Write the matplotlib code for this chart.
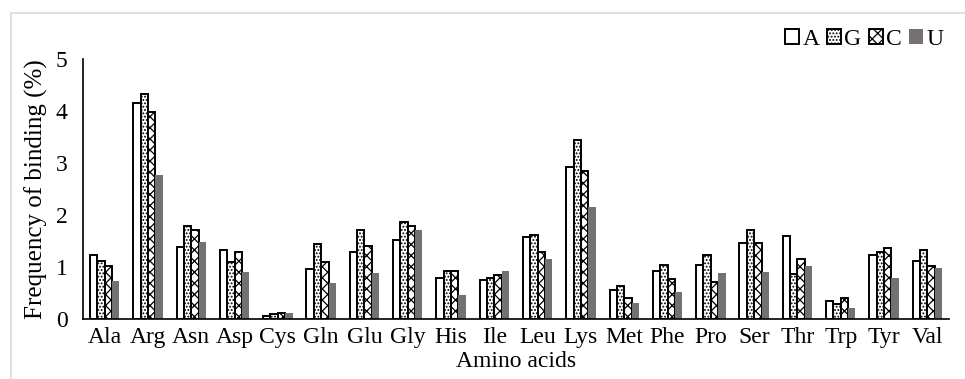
import matplotlib
matplotlib.use("Agg")
import matplotlib.pyplot as plt
import numpy as np
from matplotlib.patches import Rectangle

plt.rcParams['font.family'] = ['Liberation Serif', 'DejaVu Serif']
plt.rcParams['hatch.linewidth'] = 0.9

categories = ["Ala", "Arg", "Asn", "Asp", "Cys", "Gln", "Glu", "Gly", "His", "Ile",
              "Leu", "Lys", "Met", "Phe", "Pro", "Ser", "Thr", "Trp", "Tyr", "Val"]
series_names = ["A", "G", "C", "U"]
vals_A = [1.23, 4.15, 1.39, 1.32, 0.06, 0.96, 1.29, 1.52, 0.79, 0.75,
          1.57, 2.92, 0.56, 0.93, 1.03, 1.46, 1.60, 0.34, 1.23, 1.12]
vals_G = [1.12, 4.33, 1.78, 1.10, 0.09, 1.44, 1.71, 1.87, 0.93, 0.79,
          1.62, 3.44, 0.63, 1.03, 1.23, 1.71, 0.87, 0.29, 1.29, 1.32]
vals_C = [1.02, 3.99, 1.71, 1.29, 0.12, 1.10, 1.41, 1.78, 0.93, 0.84,
          1.28, 2.85, 0.40, 0.77, 0.71, 1.46, 1.15, 0.41, 1.37, 1.01]
vals_U = [0.74, 2.76, 1.49, 0.90, 0.12, 0.69, 0.88, 1.72, 0.46, 0.93,
          1.15, 2.15, 0.30, 0.51, 0.88, 0.90, 1.01, 0.21, 0.78, 0.99]

fig = plt.figure(figsize=(9.65, 3.79), dpi=100)
fig.patches.append(Rectangle((11/965, -0.1), 1.1, 1.1 - 13/379, transform=fig.transFigure,
                             fill=False, edgecolor='#d9d9d9', linewidth=1.2))
ax = fig.add_axes([83/965, 1 - 319/379, (949 - 83)/965, (319 - 59)/379])

x = np.arange(len(categories))
w = 0.17
styles = [
    dict(facecolor='white', edgecolor='black', hatch=None),
    dict(facecolor='white', edgecolor='black', hatch='.....'),
    dict(facecolor='white', edgecolor='black', hatch='xxx'),
    dict(facecolor='#767171', edgecolor='none', hatch=None),
]
for i, (vals, st, name) in enumerate(zip([vals_A, vals_G, vals_C, vals_U], styles, series_names)):
    ax.bar(x + (i - 1.5) * w, vals, width=w, linewidth=1.4 if st['edgecolor'] != 'none' else 0,
           label=name, **st)

ax.set_xlim(-0.5, len(categories) - 0.5)
ax.set_ylim(0, 5)
ax.set_yticks([0, 1, 2, 3, 4, 5])
ax.set_xticks(x)
ax.set_xticklabels(categories)
ax.tick_params(axis='both', length=0, labelsize=17)
ax.tick_params(axis='x', pad=6)
ax.tick_params(axis='y', pad=11)
for s in ['top', 'right']:
    ax.spines[s].set_visible(False)
ax.spines['left'].set_linewidth(1.2)
ax.spines['bottom'].set_linewidth(1.2)

ax.set_xlabel("Amino acids", fontsize=17, labelpad=2)
ax.set_ylabel("Frequency of binding (%)", fontsize=18, labelpad=6)

ax.legend(loc='center right', bbox_to_anchor=(1.005, 1.075), ncol=4, frameon=False,
          fontsize=17, handlelength=0.6, handleheight=0.6, handletextpad=0.15,
          columnspacing=0.3, borderaxespad=0)

fig.savefig("out.png", dpi=100)
